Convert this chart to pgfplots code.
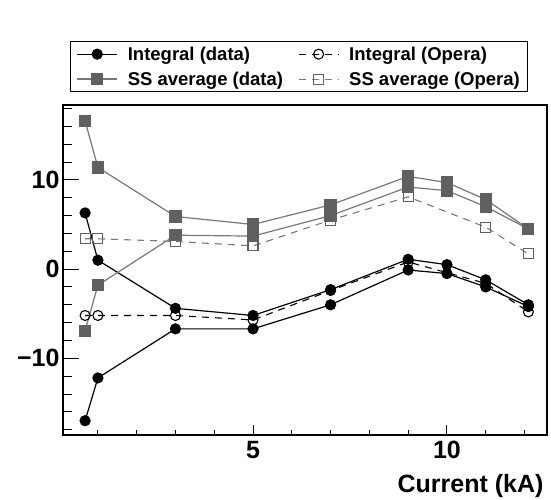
\documentclass[border=0pt]{standalone}
\usepackage{pgfplots}
\pgfplotsset{compat=1.18}
\usepackage{fontspec}
\setmainfont{Liberation Sans}
\definecolor{ssfill}{RGB}{96,96,96}
\definecolor{ssline}{RGB}{120,120,120}

\pgfplotsset{
  common/.style={
    scale only axis, width=484pt, height=330pt,
    at={(0,0)}, anchor=south west,
    xmin=0.1, xmax=12.58, ymin=-18.6, ymax=18.4,
    axis line style={line width=1.2pt},
    tick align=inside, tickpos=left,
    tick style={line width=0.9pt, black},
    /pgf/number format/assume math mode=true,
  },
  intdata/.style={black, line width=1.2pt, mark=*, mark size=5pt},
  intopera/.style={black, line width=1.1pt, dash pattern=on 7pt off 6pt,
    mark=o, mark size=5pt, mark options={solid, line width=1.1pt}},
  ssdata/.style={ssline, line width=1.2pt, mark=square*, mark size=5.5pt,
    mark options={draw=ssfill, fill=ssfill}},
  ssopera/.style={ssline, line width=1.1pt, dash pattern=on 7pt off 6pt,
    mark=square, mark size=5pt, mark options={solid, draw=ssfill, line width=1.1pt}},
}

\begin{document}
\begin{tikzpicture}
\path[use as bounding box] (-63pt,-65pt) rectangle (488pt,435pt);

% x axis ticks and label
\begin{axis}[common,
  xtick={5,10}, xticklabels={5,10},
  minor xtick={1,2,3,4,6,7,8,9,11,12},
  ytick=\empty,
  major tick length=10pt, minor tick length=5pt,
  xticklabel style={font=\fontsize{25}{25}\selectfont\bfseries, yshift=-3pt},
  xlabel={Current (kA)},
  xlabel style={font=\fontsize{25}{25}\selectfont\bfseries,
    at={(axis description cs:1,0)}, anchor=base east, yshift=-57pt},
]
\end{axis}

% data
\begin{axis}[common,
  xtick=\empty,
  ytick={-10,0,10}, yticklabels={−10,0,10},
  minor ytick={-18,-16,...,18},
  major tick length=16pt, minor tick length=9pt,
  yticklabel style={font=\fontsize{25}{25}\selectfont\bfseries},
  legend columns=2,
  legend style={at={(axis description cs:0.0145,1.039)}, anchor=south west,
    draw=black, line width=1.2pt,
    font=\fontsize{18.5}{18.5}\selectfont\bfseries,
    row sep=6pt, inner xsep=6pt, inner ysep=3pt,
    /tikz/every even column/.append style={column sep=13pt}},
  legend cell align=left,
  legend image code/.code={\draw[mark repeat=2,mark phase=2,#1]
    plot coordinates {(0pt,0pt) (20pt,0pt) (40pt,0pt)};
    \path (48pt,0pt);},
]
\addlegendimage{intdata}\addlegendentry{Integral (data)}
\addlegendimage{intopera}\addlegendentry{Integral (Opera)}
\addlegendimage{ssdata}\addlegendentry{SS average (data)}
\addlegendimage{ssopera}\addlegendentry{SS average (Opera)}

% Opera calculations (drawn underneath)
\addplot[intopera, forget plot]
  coordinates {(0.67,-5.2) (1,-5.2) (3,-5.2) (5,-5.7) (7,-2.4) (9,0.8) (11,-1.6) (12.1,-4.8)};
\addplot[ssopera, forget plot]
  coordinates {(0.67,3.4) (1,3.4) (3,3.1) (5,2.6) (7,5.5) (9,8.1) (11,4.7) (12.1,1.7)};

% Measured data, both polarities
\addplot[intdata, forget plot]
  coordinates {(0.67,6.3) (1,1.0) (3,-4.4) (5,-5.2) (7,-2.3) (9,1.1) (10,0.5) (11,-1.2) (12.1,-4.0)};
\addplot[intdata, forget plot]
  coordinates {(0.67,-17.0) (1,-12.2) (3,-6.7) (5,-6.7) (7,-4.0) (9,-0.1) (10,-0.5) (11,-2.0) (12.1,-4.2)};
\addplot[ssdata, forget plot]
  coordinates {(0.67,16.6) (1,11.4) (3,5.9) (5,5.0) (7,7.2) (9,10.4) (10,9.7) (11,7.8) (12.1,4.5)};
\addplot[ssdata, forget plot]
  coordinates {(0.67,-6.9) (1,-1.8) (3,3.8) (5,3.7) (7,6.0) (9,9.2) (10,8.8) (11,7.0) (12.1,4.5)};
\end{axis}
\end{tikzpicture}
\end{document}
